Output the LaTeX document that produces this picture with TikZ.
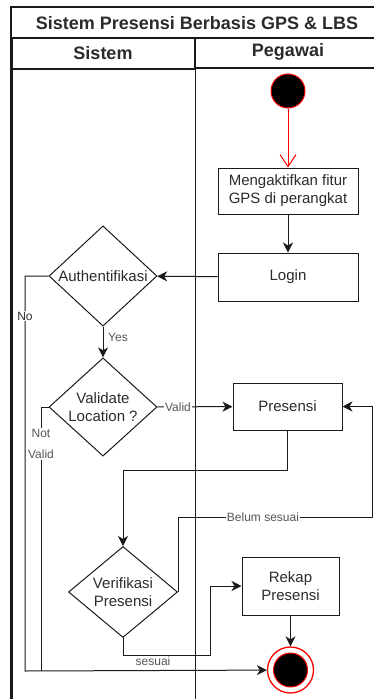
\documentclass[tikz,border=0pt]{standalone}
\usepackage{fontspec}
\setmainfont{Liberation Sans}
\usetikzlibrary{arrows.meta,shapes.geometric}
\definecolor{lineclr}{HTML}{1A1A1A}
\definecolor{txtclr}{HTML}{2B2B2B}
\definecolor{lblclr}{HTML}{555555}

\begin{document}
\begin{tikzpicture}[x=1pt, y=-1pt, line width=1pt,
  every node/.style={font=\fontsize{15}{18}\selectfont, text=txtclr},
  act/.style={draw=lineclr, rectangle, align=center, inner sep=2pt},
  decide/.style={draw=lineclr, diamond, align=center, inner sep=0pt,
    minimum width=108pt, minimum height=92pt},
  lbl/.style={fill=white, inner sep=1pt, text=lblclr, align=center, font=\fontsize{12}{21}\selectfont},
  flow/.style={draw=lineclr, -{Stealth[length=10pt, width=10pt, inset=3pt]}},
  plain/.style={draw=lineclr}]
  \useasboundingbox (0,0) rectangle (373,699);

  % swimlanes
  \draw[lineclr, line width=1.3pt] (11,7) rectangle (380,38);
  \node[font=\bfseries\fontsize{18}{20}\selectfont] (title) at (197,23) {Sistem Presensi Berbasis GPS \& LBS};
  \draw[lineclr, line width=1.3pt] (11,38) rectangle (195,69);
  \draw[lineclr, line width=1.3pt] (195,38) rectangle (380,68);
  \node[font=\bfseries\fontsize{18}{20}\selectfont] (hsistem) at (103,53) {Sistem};
  \node[font=\bfseries\fontsize{18}{20}\selectfont] (hpegawai) at (288,52) {Pegawai};
  \draw[lineclr, line width=3pt] (11,38) -- (11,699);
  \draw[lineclr] (195,68) -- (195,699);

  % start / end
  \node[circle, fill=black, draw=red, minimum size=34pt, inner sep=0pt] (start) at (288,91) {};
  \node[circle, fill=white, draw=red, line width=1.3pt, minimum size=46pt, inner sep=0pt] (end) at (290.5,670) {};
  \node[circle, fill=black, draw=red, minimum size=34pt, inner sep=0pt] (endin) at (end) {};

  % activities
  \node[act, minimum width=140pt, minimum height=46pt] (gps) at (288,191) {Mengaktifkan fitur\\GPS di perangkat};
  \node[act, minimum width=140pt, minimum height=48pt] (login) at (288,277) {Login};
  \node[act, minimum width=109pt, minimum height=47pt] (presensi) at (287.5,406.5) {Presensi};
  \node[act, minimum width=97pt, minimum height=58pt] (rekap) at (290.5,586) {Rekap\\Presensi};

  % decisions
  \node[decide] (auth) at (103,276) {Authentifikasi};
  \node[decide, minimum height=90pt] (valid) at (103,407) {Validate\\Location ?};
  \node[decide, minimum width=109pt, minimum height=91pt] (verif) at (123,592) {Verifikasi\\Presensi};

  \coordinate (nox) at (25,671);
  \coordinate (nvx) at (41,671);
  \coordinate (turn1) at (123,470);
  \coordinate (turn2) at (372,517);
  \coordinate (turn3) at (210,655);

  % flows
  \draw[red, -{Straight Barb[length=12pt, width=16pt]}] (start) -- (gps);
  \draw[flow] (gps) -- (login);
  \draw[flow] (login) -- (auth);
  \draw[flow] (auth) -- (valid);
  \draw[flow] (valid) -- (presensi);
  \draw[flow] (auth.west) -| (nox) -- (end);
  \draw[plain] (valid.west) -| (nvx);
  \draw[flow] (presensi.south) |- (turn1) -- (verif.north);
  \draw[flow] (verif.east) |- (turn2) |- (presensi.east);
  \draw[flow] (verif.south) |- (turn3) |- (rekap.west);
  \draw[flow] (rekap) -- (end);

  % labels
  \node[lbl, fill=none] (lyes) at (118,337) {Yes};
  \node[lbl] (lvalid) at (178,407) {Valid};
  \node[lbl, text=txtclr] (lno) at (25,316) {No};
  \node[lbl] (lnv) at (41,444) {Not\\Valid};
  \node[lbl] (lbelum) at (263,517) {Belum sesuai};
  \node[lbl, fill=none] (lsesuai) at (153,661) {sesuai};
\end{tikzpicture}
\end{document}
